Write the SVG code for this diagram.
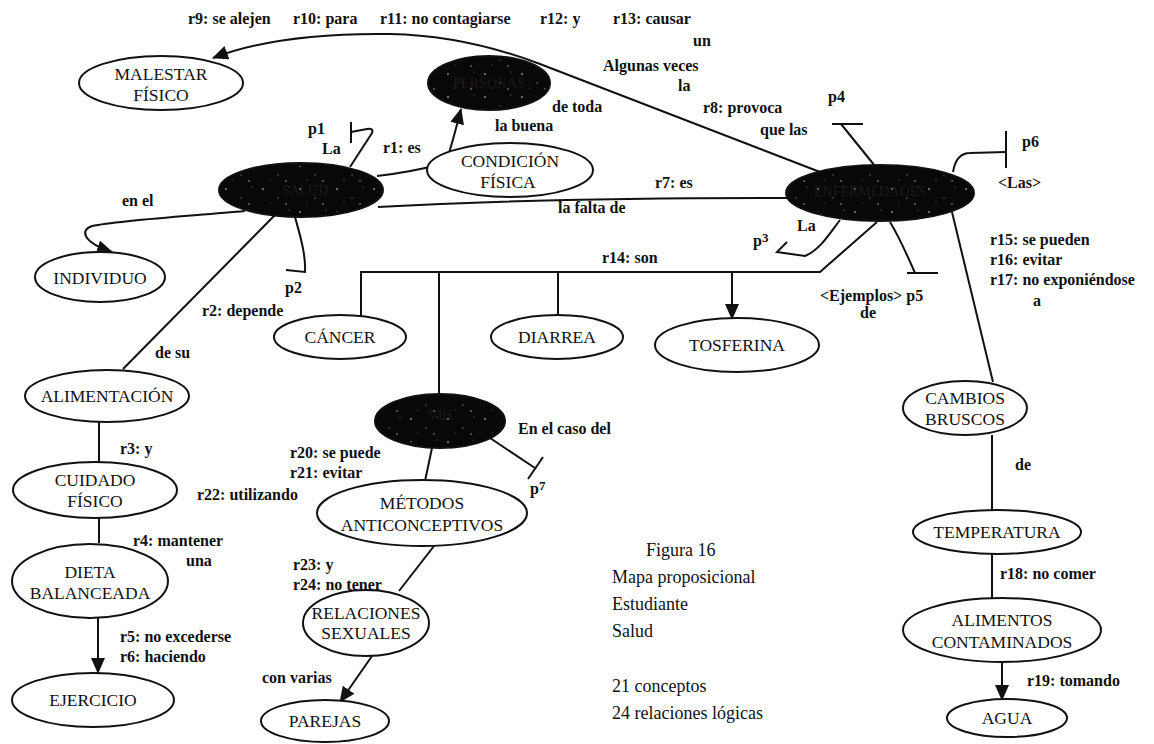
<svg xmlns="http://www.w3.org/2000/svg" width="1154" height="744" viewBox="0 0 1154 744">
  <defs>
    <marker id="arr" markerUnits="userSpaceOnUse" markerWidth="16" markerHeight="14" refX="15" refY="7" orient="auto">
      <path d="M0,0 L16,7 L0,14 Z" fill="#111"/>
    </marker>
    <!-- light specks over the filled (dark) concepts -->
    <pattern id="speck" patternUnits="userSpaceOnUse" width="37" height="23">
      <circle cx="4" cy="5" r="0.9" fill="#bbb"/>
      <circle cx="19" cy="14" r="0.7" fill="#999"/>
      <circle cx="30" cy="3" r="0.6" fill="#aaa"/>
      <circle cx="11" cy="19" r="0.6" fill="#888"/>
      <circle cx="27" cy="20" r="0.8" fill="#ccc"/>
    </pattern>
    <style>
      .bg { fill: #fff; }
      .node ellipse { fill: #fff; stroke: #111; stroke-width: 2; }
      .dark ellipse { fill: #080808; stroke: #111; stroke-width: 2; }
      .dark ellipse.sp { fill: url(#speck); stroke: none; opacity: 0.8; }
      .nt { font-family: "Liberation Serif", "Times New Roman", serif; font-size: 17.5px; fill: #111; text-anchor: middle; }
      .dt { font-family: "Liberation Serif", "Times New Roman", serif; font-size: 14px; fill: #1c1c1c; text-anchor: middle; }
      .lbl { font-family: "Liberation Serif", "Times New Roman", serif; font-size: 16px; font-weight: bold; fill: #111; }
      .cap { font-family: "Liberation Serif", "Times New Roman", serif; font-size: 18px; fill: #111; }
      .con path, .con line { fill: none; stroke: #111; stroke-width: 2; }
      .con .loop { fill: none; stroke: #111; stroke-width: 2; }
    </style>
  </defs>

  <rect class="bg" x="0" y="0" width="1154" height="744"/>

  <!-- connectors -->
  <g id="connectors" class="con">
    <!-- r8 .. r13: enfermedad -> personas -> malestar -->
    <path d="M820,172 C720,133 620,95 540,64 C490,45 440,35 390,34 C320,33 260,40 213,58" marker-end="url(#arr)"/>
    <!-- r1: salud -> condicion fisica -> personas -->
    <path d="M377,176 Q412,172 441,164"/>
    <ellipse class="loop" cx="441" cy="163" rx="12" ry="6" transform="rotate(-30 441 163)"/>
    <path d="M446,162 C452,145 456,128 461,109" marker-end="url(#arr)"/>
    <!-- p1 -->
    <path d="M350,167 L372,133 Q374,128 367,129 L351,132"/>
    <line x1="351" y1="122" x2="351" y2="143"/>
    <!-- r7: enfermedad -> salud -->
    <path d="M787,198 C650,198 500,200 378,207"/>
    <!-- en el: salud -> individuo -->
    <path d="M245,211 C190,216 120,220 92,226 C80,230 82,242 112,252" marker-end="url(#arr)"/>
    <!-- p2 -->
    <path d="M295,217 C300,235 306,255 305,272 L286,270"/>
    <!-- r2: salud -> alimentacion -->
    <line x1="275" y1="215" x2="123" y2="369"/>
    <!-- r3, r4 -->
    <line x1="99" y1="422" x2="99" y2="463"/>
    <line x1="99" y1="518" x2="99" y2="543"/>
    <!-- r5/r6 -->
    <line x1="98" y1="618" x2="98" y2="673" marker-end="url(#arr)"/>
    <!-- p4 -->
    <line x1="832" y1="124" x2="863" y2="124"/>
    <line x1="841" y1="124" x2="875" y2="166"/>
    <!-- p6 -->
    <path d="M953,172 C955,160 960,153 970,153 L1006,152"/>
    <line x1="1006" y1="131" x2="1006" y2="168"/>
    <!-- p3 -->
    <path d="M840,220 C830,233 820,250 805,256 L777,252 L787,242"/>
    <!-- p5 -->
    <path d="M890,222 C898,235 905,250 915,273"/>
    <line x1="907" y1="273" x2="938" y2="273"/>
    <!-- r14: ejemplos -->
    <path d="M877,222 L820,272 L361,272 L361,316"/>
    <line x1="439" y1="272" x2="439" y2="395"/>
    <line x1="558" y1="272" x2="558" y2="316"/>
    <line x1="732" y1="272" x2="732" y2="319" marker-end="url(#arr)"/>
    <!-- r15..r19 -->
    <line x1="952" y1="212" x2="993" y2="382"/>
    <line x1="992" y1="435" x2="992" y2="510"/>
    <line x1="992" y1="553" x2="992" y2="598"/>
    <line x1="1002" y1="662" x2="1002" y2="700" marker-end="url(#arr)"/>
    <!-- VIH -->
    <line x1="432" y1="448" x2="425" y2="481"/>
    <line x1="490" y1="438" x2="535" y2="468"/>
    <line x1="528" y1="479" x2="543" y2="457"/>
    <line x1="434" y1="546" x2="399" y2="591"/>
    <line x1="372" y1="656" x2="340" y2="702" marker-end="url(#arr)"/>
  </g>

  <!-- concept nodes -->
  <g id="n-malestar" class="node">
    <ellipse cx="161" cy="83" rx="82" ry="27"/>
    <text class="nt" x="161" y="80">MALESTAR</text>
    <text class="nt" x="161" y="101">FÍSICO</text>
  </g>
  <g id="n-personas" class="dark">
    <ellipse cx="489" cy="83" rx="61" ry="27"/>
    <ellipse class="sp" cx="489" cy="83" rx="58" ry="24"/>
    <text class="dt" x="489" y="88">PERSONAS</text>
  </g>
  <g id="n-salud" class="dark">
    <ellipse cx="301" cy="190" rx="82" ry="27"/>
    <ellipse class="sp" cx="301" cy="190" rx="79" ry="24"/>
    <text class="dt" x="305" y="195">SALUD</text>
  </g>
  <g id="n-condicion" class="node">
    <ellipse cx="510" cy="170" rx="83" ry="27"/>
    <text class="nt" x="510" y="167">CONDICIÓN</text>
    <text class="nt" x="508" y="188">FÍSICA</text>
  </g>
  <g id="n-enfermedades" class="dark">
    <ellipse cx="880" cy="193" rx="94" ry="28"/>
    <ellipse class="sp" cx="880" cy="193" rx="91" ry="25"/>
    <text class="dt" x="870" y="196">ENFERMEDADES</text>
  </g>
  <g id="n-individuo" class="node">
    <ellipse cx="100" cy="277" rx="65" ry="25"/>
    <text class="nt" x="100" y="284">INDIVIDUO</text>
  </g>
  <g id="n-cancer" class="node">
    <ellipse cx="340" cy="337" rx="66" ry="22"/>
    <text class="nt" x="340" y="343">CÁNCER</text>
  </g>
  <g id="n-diarrea" class="node">
    <ellipse cx="557" cy="337" rx="66" ry="22"/>
    <text class="nt" x="557" y="343">DIARREA</text>
  </g>
  <g id="n-tosferina" class="node">
    <ellipse cx="737" cy="345" rx="82" ry="27"/>
    <text class="nt" x="737" y="351">TOSFERINA</text>
  </g>
  <g id="n-alimentacion" class="node">
    <ellipse cx="107" cy="396" rx="82" ry="26"/>
    <text class="nt" x="107" y="402">ALIMENTACIÓN</text>
  </g>
  <g id="n-vih" class="dark">
    <ellipse cx="440" cy="421" rx="65" ry="27"/>
    <ellipse class="sp" cx="440" cy="421" rx="62" ry="24"/>
    <text class="dt" x="440" y="420">VIH</text>
  </g>
  <g id="n-cuidado" class="node">
    <ellipse cx="95" cy="490" rx="82" ry="28"/>
    <text class="nt" x="95" y="486">CUIDADO</text>
    <text class="nt" x="95" y="507">FÍSICO</text>
  </g>
  <g id="n-metodos" class="node">
    <ellipse cx="422" cy="513" rx="105" ry="33"/>
    <text class="nt" x="422" y="509">MÉTODOS</text>
    <text class="nt" x="422" y="531">ANTICONCEPTIVOS</text>
  </g>
  <g id="n-dieta" class="node">
    <ellipse cx="90" cy="581" rx="78" ry="37"/>
    <text class="nt" x="90" y="578">DIETA</text>
    <text class="nt" x="90" y="599">BALANCEADA</text>
  </g>
  <g id="n-relaciones" class="node">
    <ellipse cx="366" cy="623" rx="63" ry="33"/>
    <text class="nt" x="366" y="619">RELACIONES</text>
    <text class="nt" x="366" y="639">SEXUALES</text>
  </g>
  <g id="n-ejercicio" class="node">
    <ellipse cx="93" cy="700" rx="81" ry="27"/>
    <text class="nt" x="93" y="706">EJERCICIO</text>
  </g>
  <g id="n-parejas" class="node">
    <ellipse cx="325" cy="721" rx="64" ry="21"/>
    <text class="nt" x="325" y="727">PAREJAS</text>
  </g>
  <g id="n-cambios" class="node">
    <ellipse cx="965" cy="408" rx="62" ry="27"/>
    <text class="nt" x="965" y="404">CAMBIOS</text>
    <text class="nt" x="965" y="425">BRUSCOS</text>
  </g>
  <g id="n-temperatura" class="node">
    <ellipse cx="997" cy="532" rx="84" ry="22"/>
    <text class="nt" x="997" y="538">TEMPERATURA</text>
  </g>
  <g id="n-alimentos" class="node">
    <ellipse cx="1002" cy="630" rx="99" ry="32"/>
    <text class="nt" x="1002" y="626">ALIMENTOS</text>
    <text class="nt" x="1002" y="648">CONTAMINADOS</text>
  </g>
  <g id="n-agua" class="node">
    <ellipse cx="1007" cy="718" rx="60" ry="19"/>
    <text class="nt" x="1007" y="724">AGUA</text>
  </g>

  <!-- link labels -->
  <g id="labels" class="lbl">
    <text x="188" y="24">r9: se alejen</text>
    <text x="293" y="24">r10: para</text>
    <text x="380" y="24">r11: no contagiarse</text>
    <text x="540" y="24">r12: y</text>
    <text x="613" y="24">r13: causar</text>
    <text x="693" y="46">un</text>
    <text x="603" y="71">Algunas veces</text>
    <text x="678" y="91">la</text>
    <text x="703" y="113">r8: provoca</text>
    <text x="760" y="135">que las</text>
    <text x="828" y="102">p4</text>
    <text x="308" y="134">p1</text>
    <text x="322" y="154">La</text>
    <text x="383" y="153">r1: es</text>
    <text x="552" y="112">de toda</text>
    <text x="495" y="131">la buena</text>
    <text x="655" y="188">r7: es</text>
    <text x="558" y="213">la falta de</text>
    <text x="122" y="206">en el</text>
    <text x="285" y="293">p2</text>
    <text x="202" y="316">r2: depende</text>
    <text x="155" y="358">de su</text>
    <text x="797" y="231">La</text>
    <text x="753" y="246">p<tspan dy="-4" font-size="13">3</tspan></text>
    <text x="602" y="263">r14: son</text>
    <text x="820" y="301">&lt;Ejemplos&gt; p5</text>
    <text x="860" y="318">de</text>
    <text x="1022" y="147">p6</text>
    <text x="998" y="188">&lt;Las&gt;</text>
    <text x="990" y="245">r15: se pueden</text>
    <text x="990" y="265">r16: evitar</text>
    <text x="990" y="285">r17: no exponiéndose</text>
    <text x="1033" y="306">a</text>
    <text x="120" y="454">r3: y</text>
    <text x="290" y="458">r20: se puede</text>
    <text x="290" y="478">r21: evitar</text>
    <text x="197" y="500">r22: utilizando</text>
    <text x="518" y="434">En el caso del</text>
    <text x="530" y="494">p<tspan dy="-4" font-size="13">7</tspan></text>
    <text x="133" y="546">r4: mantener</text>
    <text x="186" y="566">una</text>
    <text x="293" y="570">r23: y</text>
    <text x="293" y="590">r24: no tener</text>
    <text x="120" y="642">r5: no excederse</text>
    <text x="120" y="662">r6: haciendo</text>
    <text x="262" y="683">con varias</text>
    <text x="1015" y="470">de</text>
    <text x="1000" y="579">r18: no comer</text>
    <text x="1027" y="686">r19: tomando</text>
  </g>

  <!-- caption -->
  <g id="caption" class="cap">
    <text x="646" y="556">Figura 16</text>
    <text x="612" y="583">Mapa proposicional</text>
    <text x="612" y="610">Estudiante</text>
    <text x="612" y="637">Salud</text>
    <text x="612" y="692">21 conceptos</text>
    <text x="612" y="719">24 relaciones lógicas</text>
  </g>
</svg>
